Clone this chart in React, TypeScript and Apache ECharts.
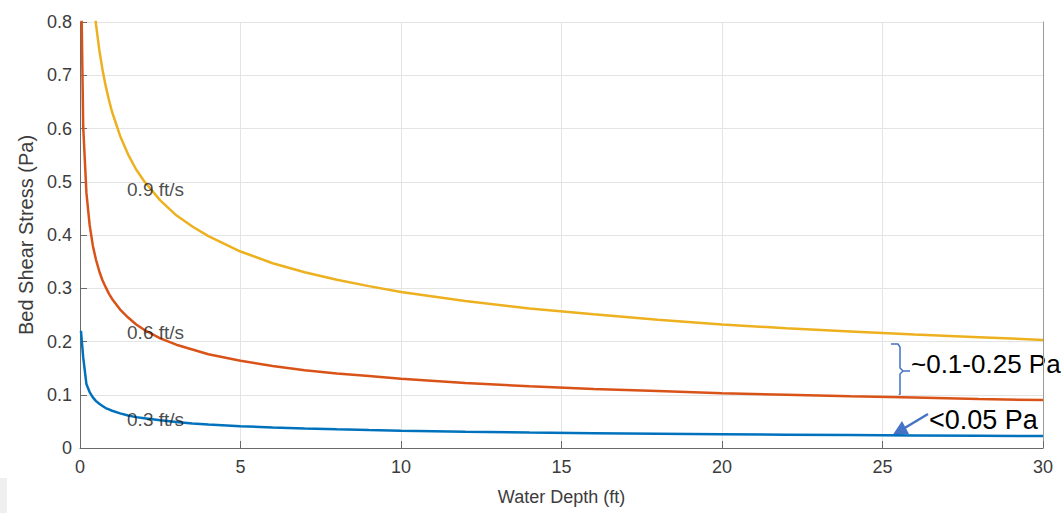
import React, { useEffect, useRef } from "react";
import * as echarts from "echarts";

const depths = [0.03, 0.1, 0.2, 0.3, 0.4, 0.5, 0.6, 0.7, 0.8, 0.9, 1, 1.25, 1.5, 1.75, 2, 2.5, 3, 3.5, 4, 5, 6, 7, 8, 9, 10, 12, 14, 16, 18, 20, 22, 24, 26, 28, 30];
const stress09 = [2.03, 1.36, 1.079, 0.943, 0.856, 0.795, 0.748, 0.711, 0.68, 0.654, 0.631, 0.586, 0.551, 0.523, 0.501, 0.465, 0.437, 0.416, 0.398, 0.369, 0.347, 0.33, 0.316, 0.304, 0.293, 0.276, 0.262, 0.251, 0.241, 0.232, 0.225, 0.219, 0.213, 0.208, 0.203];
const stress06 = [0.9, 0.603, 0.479, 0.419, 0.38, 0.353, 0.332, 0.315, 0.302, 0.29, 0.28, 0.26, 0.245, 0.232, 0.222, 0.206, 0.194, 0.185, 0.176, 0.164, 0.154, 0.146, 0.14, 0.135, 0.13, 0.122, 0.116, 0.111, 0.107, 0.103, 0.1, 0.097, 0.095, 0.092, 0.09];
const stress03 = [0.22, 0.17, 0.12, 0.105, 0.095, 0.088, 0.083, 0.079, 0.075, 0.0725, 0.07, 0.065, 0.061, 0.058, 0.056, 0.052, 0.049, 0.046, 0.044, 0.041, 0.0385, 0.0366, 0.035, 0.0337, 0.0325, 0.0306, 0.029, 0.0278, 0.0267, 0.0258, 0.025, 0.0243, 0.0237, 0.023, 0.0225];

const seriesNames = ["0.9 ft/s", "0.6 ft/s", "0.3 ft/s"];
const labelAnchors: [number, number][] = [[1.45, 0.485], [1.45, 0.216], [1.45, 0.053]];
const colors = ["#EDB120", "#D95319", "#0072BD"];

const FONT = "Liberation Sans, Arial, sans-serif";

export default function App() {
  const ref = useRef<HTMLDivElement>(null);
  useEffect(() => {
    if (!ref.current) return;
    const chart = echarts.init(ref.current, undefined, { renderer: "svg" });
    const allData = [stress09, stress06, stress03];
    const accent = "#4472C4";
    const lineSeries = allData.map((vals, i) => ({
      name: seriesNames[i],
      type: "line",
      data: depths.map((d, j) => [d, vals[j]]),
      showSymbol: false,
      symbol: "none",
      clip: true,
      smooth: false,
      lineStyle: { color: colors[i], width: 2.5 },
      z: 3 - i,
    }));
    const labelSeries = {
      type: "scatter",
      symbolSize: 1,
      itemStyle: { color: "rgba(0,0,0,0)" },
      z: 10,
      data: labelAnchors.map((a, i) => ({
        value: a,
        label: {
          show: true,
          formatter: seriesNames[i],
          position: "right",
          distance: 0,
          fontFamily: FONT,
          fontSize: 19,
          color: "#1a1a1a",
        },
      })),
    };
    chart.setOption({
      animation: false,
      backgroundColor: "#ffffff",
      grid: { left: 80, right: 21, top: 22, bottom: 65 },
      xAxis: {
        type: "value",
        min: 0,
        max: 30,
        interval: 5,
        name: "Water Depth (ft)",
        nameLocation: "middle",
        nameGap: 40,
        nameTextStyle: { fontFamily: FONT, fontSize: 18, color: "#3c3c3c" },
        axisLine: { show: true, onZero: false, lineStyle: { color: "#6a6a6a", width: 1 } },
        axisTick: { show: true, inside: true, length: 7, lineStyle: { color: "#6a6a6a" } },
        axisLabel: { fontFamily: FONT, fontSize: 18, color: "#3c3c3c", margin: 10 },
        splitLine: { show: true, lineStyle: { color: "#e4e4e4", width: 1 } },
      },
      yAxis: [
        {
          type: "value",
          min: 0,
          max: 0.8,
          interval: 0.1,
          name: "Bed Shear Stress (Pa)",
          nameLocation: "middle",
          nameGap: 44,
          nameTextStyle: { fontFamily: FONT, fontSize: 20, color: "#3c3c3c" },
          axisLine: { show: true, lineStyle: { color: "#6a6a6a", width: 1 } },
          axisTick: { show: true, inside: true, length: 7, lineStyle: { color: "#6a6a6a" } },
          axisLabel: {
            fontFamily: FONT,
            fontSize: 18,
            color: "#3c3c3c",
            margin: 8,
            formatter: (v: number) => (v === 0 ? "0" : v.toFixed(1)),
          },
          splitLine: { show: true, lineStyle: { color: "#e4e4e4", width: 1 } },
        },
        {
          type: "value",
          min: 0,
          max: 0.8,
          interval: 0.1,
          position: "right",
          axisLine: { show: true, lineStyle: { color: "#9a9a9a", width: 1 } },
          axisTick: { show: false },
          axisLabel: { show: false },
          splitLine: { show: false },
        },
      ],
      series: [...lineSeries, labelSeries],
      graphic: [
        { type: "rect", shape: { x: 0, y: 478, width: 7, height: 35 }, style: { fill: "#efefef" } },
        {
          type: "polyline",
          shape: {
            points: [[891, 344], [898, 344], [900, 347], [900, 368], [903, 371], [910, 371], [903, 371], [900, 374], [900, 394], [898, 397], [891, 397]],
          },
          style: { stroke: accent, lineWidth: 1.5, fill: "none" },
        },
        {
          type: "text",
          x: 911,
          y: 364,
          style: { text: "~0.1-0.25 Pa", font: `26px ${FONT}`, fill: "#000000", verticalAlign: "middle", align: "left" },
        },
        {
          type: "line",
          shape: { x1: 928, y1: 414, x2: 903, y2: 429 },
          style: { stroke: accent, lineWidth: 2.5 },
        },
        {
          type: "polygon",
          shape: { points: [[892, 436], [902, 421], [909, 434]] },
          style: { fill: accent },
        },
        {
          type: "text",
          x: 929,
          y: 420,
          style: { text: "<0.05 Pa", font: `27px ${FONT}`, fill: "#000000", verticalAlign: "middle", align: "left" },
        },
      ],
    });
    return () => chart.dispose();
  }, []);
  return (
    <div
      ref={ref}
      style={{ position: "absolute", left: 0, top: 0, width: 1064, height: 513 }}
    />
  );
}
